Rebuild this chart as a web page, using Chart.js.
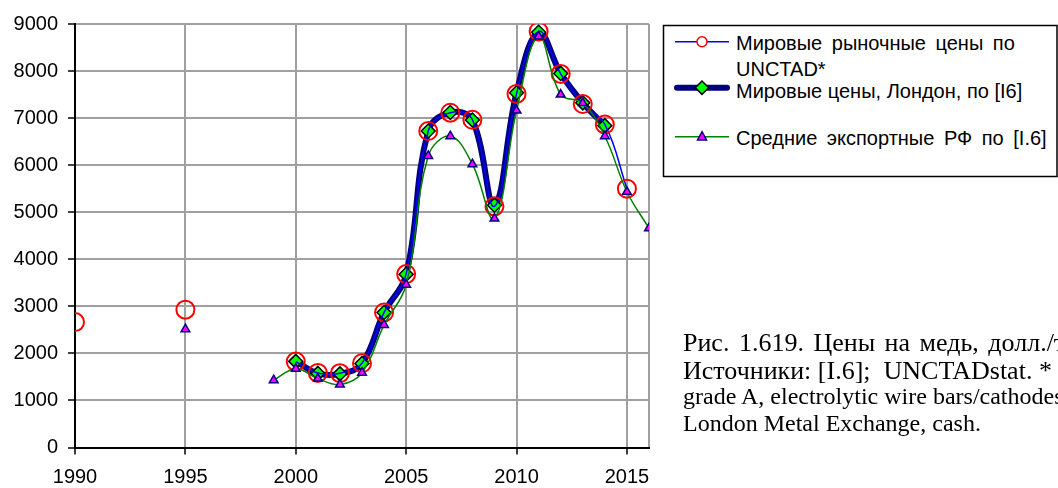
<!DOCTYPE html>
<html>
<head>
<meta charset="utf-8">
<script src="https://cdn.jsdelivr.net/npm/chart.js@4"></script>
<style>
  html, body { margin: 0; padding: 0; background: #fff; overflow: hidden; }
  #wrap { position: relative; width: 1058px; height: 488px; overflow: hidden; }
  #chart { position: absolute; left: 0; top: 0; }
  #keys { position: absolute; left: 0; top: 0; }
  .lg { position: absolute; left: 736px; font: 20px "Liberation Sans", Arial, sans-serif;
        line-height: 26px; color: #000; white-space: nowrap; }
  .cap { position: absolute; left: 683px; white-space: nowrap; color: #000;
         font-family: "Liberation Serif", "Times New Roman", serif; line-height: 27px; }
  .big { font-size: 26px; }
  .small { font-size: 24px; }
</style>
</head>
<body>
<div id="wrap">
  <canvas id="chart" width="1058" height="488"></canvas>

  <!-- legend frame and sample marks -->
  <svg id="keys" width="1058" height="488">
    <rect x="663.5" y="25.5" width="393.5" height="151" fill="#fff" stroke="#000" stroke-width="1.5"/>
    <line x1="675" y1="41.7" x2="729" y2="41.7" stroke="#0000ff" stroke-width="1.5"/>
    <circle cx="702" cy="41.7" r="5" fill="#fff" stroke="#ff0000" stroke-width="1.5"/>
    <line x1="677" y1="87.7" x2="727" y2="87.7" stroke="#000080" stroke-width="6" stroke-linecap="round"/>
    <polygon points="702,81 708.7,87.7 702,94.4 695.3,87.7" fill="#00ff00" stroke="#000" stroke-width="1.5"/>
    <line x1="675" y1="136.7" x2="729" y2="136.7" stroke="#008000" stroke-width="1.5"/>
    <polygon points="702,131.7 706.5,140 697.5,140" fill="#ff00ff" stroke="#000080" stroke-width="1.5"/>
  </svg>
  <div class="lg" style="top:30px; word-spacing:4px">Мировые рыночные цены по<br>UNCTAD*</div>
  <div class="lg" style="top:78px">Мировые цены, Лондон, по [I6]</div>
  <div class="lg" style="top:125px; word-spacing:4px">Средние экспортные РФ по [I.6]</div>

  <div class="cap big" style="top:329px; word-spacing:3px">Рис. 1.619. Цены на медь, долл./т</div>
  <div class="cap big" style="top:357px">Источники: [I.6];&nbsp; UNCTADstat. *</div>
  <div class="cap small" style="top:383px">grade A, electrolytic wire bars/cathodes</div>
  <div class="cap small" style="top:410px">London Metal Exchange, cash.</div>
</div>

<script>
// years on the x axis, 1990..2016
const years = [1990, 1991, 1992, 1993, 1994, 1995, 1996, 1997, 1998, 1999,
               2000, 2001, 2002, 2003, 2004, 2005, 2006, 2007, 2008, 2009,
               2010, 2011, 2012, 2013, 2014, 2015, 2016];

// world market prices, UNCTAD
const unctadPrices = [2665, null, null, null, null, 2930, null, null, null, null,
                      1825, 1585, 1580, 1790, 2870, 3685, 6725, 7115, 6965, 5125,
                      7515, 8840, 7940, 7300, 6865, 5500, null];

// world prices, London
const londonPrices = [null, null, null, null, null, null, null, null, null, null,
                      1830, 1575, 1565, 1785, 2870, 3680, 6725, 7120, 6960, 5150,
                      7540, 8825, 7950, 7325, 6840, null, null];

// average export prices, RF
const exportPrices = [null, null, null, null, null, 2515, null, null, null, 1430,
                      1675, 1465, 1340, 1590, 2605, 3460, 6195, 6615, 6020, 4865,
                      7160, 8735, 7500, 7320, 6615, 5435, 4660];

const xTicks = [1990, 1995, 2000, 2005, 2010, 2015, 2016];
const yMin = 0, yMax = 9000, yStep = 1000;

const pts = arr => years.map((y, i) => ({ x: y, y: arr[i] }));
const tickFont = { family: '"Liberation Sans", Arial, sans-serif', size: 20 };

new Chart(document.getElementById('chart'), {
  type: 'line',
  data: {
    datasets: [
      {
        label: 'Средние экспортные РФ по [I.6]',
        data: pts(exportPrices),
        order: 0,
        borderColor: '#008000',
        borderWidth: 1.5,
        tension: 0.4,
        pointStyle: 'triangle',
        pointRadius: 5,
        pointBackgroundColor: '#ff00ff',
        pointBorderColor: '#000080',
        pointBorderWidth: 1.5,
      },
      {
        label: 'Мировые рыночные цены по UNCTAD*',
        data: pts(unctadPrices),
        order: 1,
        borderColor: '#0000ff',
        borderWidth: 1.5,
        tension: 0.4,
        pointStyle: 'circle',
        pointRadius: 9,
        pointBackgroundColor: 'rgba(0,0,0,0)',
        pointBorderColor: '#ff0000',
        pointBorderWidth: 2,
      },
      {
        label: 'Мировые цены, Лондон, по [I6]',
        data: pts(londonPrices),
        order: 2,
        borderColor: '#000080',
        borderWidth: 6,
        borderCapStyle: 'round',
        borderJoinStyle: 'round',
        tension: 0.4,
        pointStyle: 'rectRot',
        pointRadius: 7,
        pointBackgroundColor: '#00ff00',
        pointBorderColor: '#000',
        pointBorderWidth: 1.5,
      },
    ],
  },
  options: {
    responsive: false,
    animation: false,
    spanGaps: false,
    layout: { padding: { top: 24, right: 409, left: 0, bottom: 0 } },
    plugins: { legend: { display: false }, tooltip: { enabled: false } },
    scales: {
      x: {
        type: 'linear',
        min: 1990,
        max: 2016,
        afterBuildTicks: s => { s.ticks = xTicks.map(v => ({ value: v })); },
        afterFit: s => { s.height = 40.5; },
        ticks: {
          color: '#000',
          font: tickFont,
          padding: 11,
          maxRotation: 0,
          autoSkip: false,
          callback: v => (v % 5 === 0 ? String(v) : ''),
        },
        grid: {
          color: '#a0a0a0',
          lineWidth: 2,
          tickLength: 7,
          tickColor: c => (c.tick && c.tick.value % 5 !== 0 ? 'rgba(0,0,0,0)' : '#000'),
          tickWidth: 1.5,
        },
        border: { color: '#000', width: 2 },
      },
      y: {
        min: yMin,
        max: yMax,
        afterFit: s => { s.width = 75; },
        ticks: { stepSize: yStep, color: '#000', font: tickFont, padding: 10,
                 callback: v => String(v) },
        grid: {
          color: '#a0a0a0',
          lineWidth: 2,
          tickLength: 7,
          tickColor: '#000',
          tickWidth: 1.5,
        },
        border: { color: '#000', width: 2 },
      },
    },
  },
});
</script>
</body>
</html>
